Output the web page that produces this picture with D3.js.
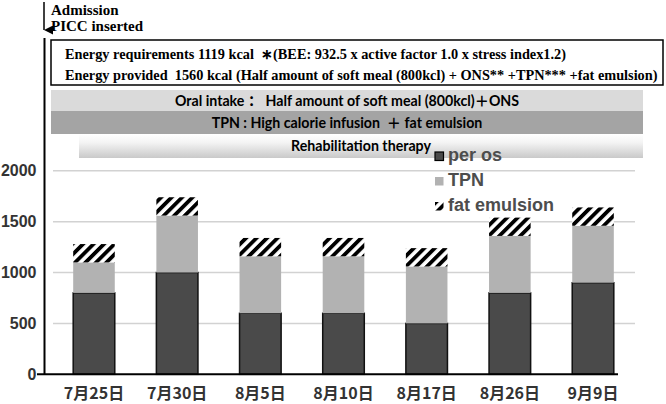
<!DOCTYPE html>
<html>
<head>
<meta charset="utf-8">
<script src="https://cdn.jsdelivr.net/npm/d3@7"></script>
<style>
  body { margin: 0; background: #fff; }
  svg { display: block; }
</style>
</head>
<body>
<div id="chart"></div>
<script>
// Set dimensions
const width = 666,
      height = 404;

// Data (kcal per day)
const dates = ["7月25日", "7月30日", "8月5日", "8月10日", "8月17日", "8月26日", "9月9日"];
const perOs = [800, 1000, 600, 600, 500, 800, 900];
const tpn = [300, 560, 560, 560, 560, 560, 560];
const fatEmulsion = [180, 180, 180, 180, 180, 180, 180];
const seriesNames = ["per os", "TPN", "fat emulsion"];
const yTicks = [0, 500, 1000, 1500, 2000];

// Texts
const admissionLines = ["Admission", "PICC inserted"];
const energyLines = [
  "Energy requirements 1119 kcal  \u2217(BEE: 932.5 x active factor 1.0 x stress index1.2)",
  "Energy provided  1560 kcal (Half amount of soft meal (800kcl) + ONS** +TPN*** +fat emulsion)"
];
const oralLabel = "Oral intake\uFF1A  Half amount of soft meal (800kcl)\uFF0BONS";
const tpnLabel = "TPN : High calorie infusion  \uFF0B fat emulsion";
const rehabLabel = "Rehabilitation therapy";

const rows = dates.map((d, i) => ({
  date: d,
  "per os": perOs[i],
  "TPN": tpn[i],
  "fat emulsion": fatEmulsion[i]
}));

const svg = d3.select("#chart")
  .append("svg")
  .attr("width", width)
  .attr("height", height);

const defs = svg.append("defs");

// Diagonal hatch for fat emulsion
const hatch = defs.append("pattern")
  .attr("id", "hatch")
  .attr("patternUnits", "userSpaceOnUse")
  .attr("width", 7.4)
  .attr("height", 7.4)
  .attr("patternTransform", "rotate(45)");
hatch.append("rect").attr("width", 7.4).attr("height", 7.4).attr("fill", "#fff");
hatch.append("rect").attr("width", 3.8).attr("height", 7.4).attr("fill", "#000");

// Gradient for the rehabilitation band
const grad = defs.append("linearGradient")
  .attr("id", "rehabGrad")
  .attr("x1", 0).attr("y1", 0).attr("x2", 0).attr("y2", 1);
grad.append("stop").attr("offset", "0%").attr("stop-color", "#ffffff");
grad.append("stop").attr("offset", "35%").attr("stop-color", "#f4f4f4");
grad.append("stop").attr("offset", "100%").attr("stop-color", "#c9c9c9");

// Arrow marker
defs.append("marker")
  .attr("id", "arrowHead")
  .attr("viewBox", "0 0 10 10")
  .attr("refX", 5).attr("refY", 10)
  .attr("markerWidth", 6).attr("markerHeight", 6)
  .attr("orient", "auto-start-reverse")
  .append("path")
  .attr("d", "M0,0 L5,10 L10,0 Z")
  .attr("fill", "#000");

// Scales
const x = d3.scaleBand()
  .domain(dates)
  .range([52.4, 634.6])
  .paddingInner(0.5)
  .paddingOuter(0.25);

const y = d3.scaleLinear()
  .domain([0, 2000])
  .range([374.3, 170.8]);

const color = d3.scaleOrdinal()
  .domain(seriesNames)
  .range(["#4a4a4a", "#b2b2b2", "url(#hatch)"]);

// Admission arrow + texts
svg.append("line")
  .attr("x1", 44).attr("x2", 44)
  .attr("y1", 2).attr("y2", 30)
  .attr("stroke", "#000")
  .attr("stroke-width", 1.5)
  .attr("marker-end", "url(#arrowHead)");

svg.selectAll(".adm")
  .data(admissionLines)
  .enter()
  .append("text")
  .attr("class", "adm")
  .attr("x", 51)
  .attr("y", (d, i) => 15 + i * 16)
  .text(d => d)
  .style("font-family", "'Liberation Serif', serif")
  .style("font-weight", "bold")
  .style("font-size", "15px");

// Timeline line (also the y axis)
svg.append("line")
  .attr("x1", 44.5).attr("x2", 44.5)
  .attr("y1", 38).attr("y2", y(0))
  .attr("stroke", "#000")
  .attr("stroke-width", 2);

// Energy box
svg.append("rect")
  .attr("x", 51).attr("y", 40)
  .attr("width", 612).attr("height", 45)
  .attr("fill", "#fff")
  .attr("stroke", "#000")
  .attr("stroke-width", 1.5);

svg.selectAll(".energy")
  .data(energyLines)
  .enter()
  .append("text")
  .attr("class", "energy")
  .attr("x", 65)
  .attr("y", (d, i) => 59 + i * 20.5)
  .text(d => d)
  .style("white-space", "pre")
  .style("font-family", "'Liberation Serif', serif")
  .style("font-weight", "bold")
  .style("font-size", "14.3px");

// Bands
const bandFont = "Lato, 'Noto Sans CJK JP', sans-serif";

svg.append("rect")
  .attr("x", 51).attr("y", 90)
  .attr("width", 592).attr("height", 21)
  .attr("fill", "#dadada");
svg.append("text")
  .attr("x", 347).attr("y", 106)
  .attr("text-anchor", "middle")
  .text(oralLabel)
  .style("white-space", "pre")
  .style("font-family", bandFont)
  .style("font-weight", "bold")
  .style("font-size", "14.2px");

svg.append("rect")
  .attr("x", 51).attr("y", 111)
  .attr("width", 592).attr("height", 23)
  .attr("fill", "#a4a4a4");
svg.append("text")
  .attr("x", 347).attr("y", 128)
  .attr("text-anchor", "middle")
  .text(tpnLabel)
  .style("white-space", "pre")
  .style("font-family", bandFont)
  .style("font-weight", "bold")
  .style("font-size", "14.2px");

svg.append("rect")
  .attr("x", 79).attr("y", 134)
  .attr("width", 564).attr("height", 24)
  .attr("fill", "url(#rehabGrad)");
svg.append("text")
  .attr("x", 361).attr("y", 151)
  .attr("text-anchor", "middle")
  .text(rehabLabel)
  .style("font-family", bandFont)
  .style("font-weight", "bold")
  .style("font-size", "14.2px");

// Gridlines
svg.selectAll(".grid")
  .data(yTicks.filter(t => t > 0))
  .enter()
  .append("line")
  .attr("class", "grid")
  .attr("x1", 53).attr("x2", 635)
  .attr("y1", d => y(d)).attr("y2", d => y(d))
  .attr("stroke", "#d2d2d2")
  .attr("stroke-width", 1.5);

// Stacked bars
const stack = d3.stack().keys(seriesNames);
const layers = svg.selectAll(".layer")
  .data(stack(rows))
  .enter()
  .append("g")
  .attr("class", "layer")
  .attr("fill", d => color(d.key));

layers.selectAll("rect")
  .data(d => d.map(p => Object.assign(p, { key: d.key })))
  .enter()
  .append("rect")
  .attr("x", d => x(d.data.date))
  .attr("width", x.bandwidth())
  .attr("y", d => y(d[1]))
  .attr("height", d => y(d[0]) - y(d[1]))
  .attr("stroke", d => d.key === "per os" ? "#111" : "none")
  .attr("stroke-width", 1.5);

// X axis line
svg.append("line")
  .attr("x1", 37).attr("x2", 618)
  .attr("y1", y(0)).attr("y2", y(0))
  .attr("stroke", "#000")
  .attr("stroke-width", 2);

// Y axis labels
const yAxis = svg.append("g")
  .attr("transform", "translate(44.5,0)")
  .call(d3.axisLeft(y).tickValues(yTicks).tickFormat(d3.format("d")).tickSize(0).tickPadding(8));
yAxis.select(".domain").remove();
yAxis.selectAll("text")
  .style("font-family", "'Liberation Sans', Arial, sans-serif")
  .style("font-weight", "bold")
  .style("font-size", "16px")
  .style("fill", "#333");

// X axis labels
const xAxis = svg.append("g")
  .attr("transform", `translate(0,${y(0)})`)
  .call(d3.axisBottom(x).tickSize(0).tickPadding(13));
xAxis.select(".domain").remove();
xAxis.selectAll("text")
  .style("font-family", "'Noto Sans CJK JP', sans-serif")
  .style("font-weight", "bold")
  .style("font-size", "16px")
  .style("fill", "#333");

// Legend
const legend = svg.append("g")
  .attr("transform", "translate(435,161)");

const legendItems = legend.selectAll(".legend-item")
  .data(seriesNames)
  .enter()
  .append("g")
  .attr("class", "legend-item")
  .attr("transform", (d, i) => `translate(0,${i * 25})`);

legendItems.append("rect")
  .attr("y", -9)
  .attr("width", 8.5)
  .attr("height", 8.5)
  .attr("fill", d => color(d))
  .attr("stroke", d => d === "per os" ? "#000" : "none")
  .attr("stroke-width", 1.2);

legendItems.append("text")
  .attr("x", 13)
  .text(d => d)
  .style("font-family", "'Liberation Sans', Arial, sans-serif")
  .style("font-weight", "bold")
  .style("font-size", "18px")
  .style("fill", "#4d4d4d");
</script>
</body>
</html>
